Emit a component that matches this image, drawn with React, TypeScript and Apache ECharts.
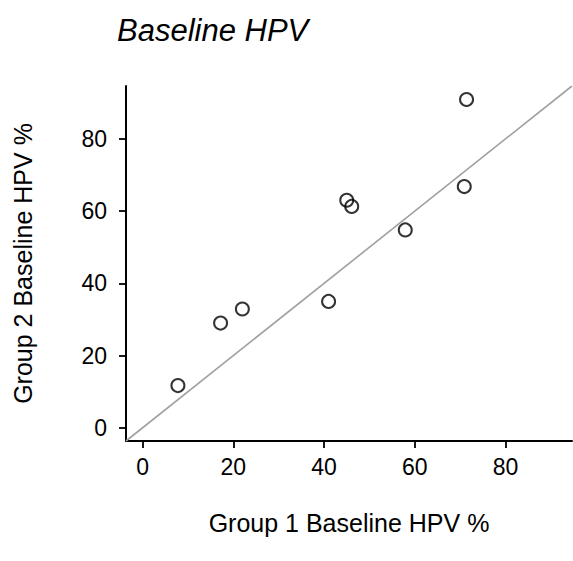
import React, { useEffect, useRef } from "react";
import * as echarts from "echarts";

// Baseline HPV prevalence (%) per site: group 1 on x, group 2 on y
const group1Hpv = [7.8, 17.2, 22.0, 41.0, 45.0, 46.1, 57.9, 70.9, 71.4];
const group2Hpv = [11.7, 29.0, 32.9, 35.0, 63.0, 61.3, 54.8, 66.8, 90.9];

const tickValues = [0, 20, 40, 60, 80];
const axisMin = -3.64;
const axisMax = 94.64;

const FONT = "'Liberation Sans', Arial, Helvetica, sans-serif";
const TICK_SIZE = 23;
const NAME_SIZE = 25;

export default function App() {
  const ref = useRef<HTMLDivElement>(null);

  useEffect(() => {
    if (!ref.current) return;
    const chart = echarts.init(ref.current, null, { renderer: "svg" });

    const points = group1Hpv.map((x, i) => [x, group2Hpv[i]]);
    // line of equality y = x across the full plotting range
    const identity = [
      [axisMin, axisMin],
      [axisMax, axisMax],
    ];

    const axisCommon = {
      type: "value" as const,
      min: axisMin,
      max: axisMax,
      splitLine: { show: false },
      axisLine: {
        show: true,
        onZero: false,
        lineStyle: { color: "#000", width: 2 },
      },
      axisTick: {
        show: true,
        customValues: tickValues,
        length: 7,
        lineStyle: { color: "#000", width: 1.8 },
      },
      nameLocation: "middle" as const,
      nameTextStyle: { color: "#000", fontSize: NAME_SIZE, fontFamily: FONT },
    };

    chart.setOption({
      animation: false,
      backgroundColor: "#fff",
      title: {
        text: "Baseline HPV",
        left: 112,
        top: 10,
        textStyle: {
          fontFamily: FONT,
          fontStyle: "italic",
          fontWeight: "normal",
          fontSize: 31,
          color: "#000",
        },
      },
      grid: { left: 126, top: 86, width: 446, height: 355 },
      xAxis: {
        ...axisCommon,
        name: "Group 1 Baseline HPV %",
        nameGap: 69,
        axisLabel: {
          customValues: tickValues,
          margin: 14,
          color: "#000",
          fontSize: TICK_SIZE,
          fontFamily: FONT,
        },
      },
      yAxis: {
        ...axisCommon,
        name: "Group 2 Baseline HPV %",
        nameGap: 91,
        axisLabel: {
          customValues: tickValues,
          margin: 19,
          color: "#000",
          fontSize: TICK_SIZE,
          fontFamily: FONT,
        },
      },
      series: [
        {
          type: "line",
          data: identity,
          showSymbol: false,
          symbol: "none",
          silent: true,
          lineStyle: { color: "#a0a0a0", width: 1.6 },
          z: 1,
        },
        {
          type: "scatter",
          data: points,
          symbol: "circle",
          symbolSize: 13,
          itemStyle: {
            color: "rgba(0,0,0,0)",
            borderColor: "#000",
            borderWidth: 2,
          },
          z: 2,
        },
      ],
    });

    return () => chart.dispose();
  }, []);

  return (
    <div
      ref={ref}
      style={{ position: "fixed", left: 0, top: 0, width: 573, height: 561 }}
    />
  );
}
